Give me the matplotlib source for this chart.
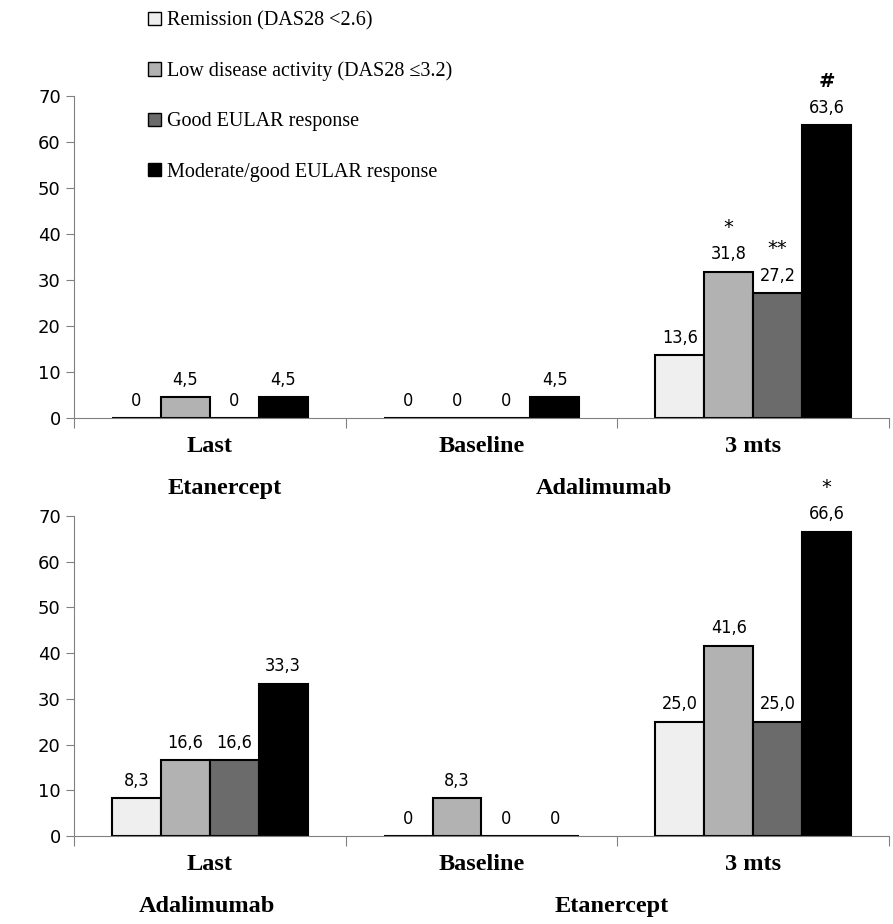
import numpy as np
import matplotlib.pyplot as plt
from matplotlib.patches import Patch

# data
series = ['Remission (DAS28 <2.6)', 'Low disease activity (DAS28 \u22643.2)',
          'Good EULAR response', 'Moderate/good EULAR response']
colors = ['#efefef', '#b2b2b2', '#6b6b6b', '#000000']
periods = ['Last', 'Baseline', '3 mts']

top_values = [[0, 0, 13.6],      # remission
              [4.5, 0, 31.8],    # low disease activity
              [0, 0, 27.2],      # good EULAR
              [4.5, 4.5, 63.6]]  # moderate/good EULAR
top_marks = {(1, 2): '*', (2, 2): '**', (3, 2): '#'}
top_drugs = ['Etanercept', 'Adalimumab']
top_drug_x = [0.055, 1.45]

bot_values = [[8.3, 0, 25.0],
              [16.6, 8.3, 41.6],
              [16.6, 0, 25.0],
              [33.3, 0, 66.6]]
bot_marks = {(3, 2): '*'}
bot_drugs = ['Adalimumab', 'Etanercept']
bot_drug_x = [-0.01, 1.48]

plt.rcParams['font.family'] = ['Liberation Serif', 'DejaVu Serif']

fig = plt.figure(figsize=(8.93, 9.24), dpi=100)
W, H = 893, 924


def fmt(v):
    return '0' if v == 0 else ('%.1f' % v).replace('.', ',')


def panel(rect, values, marks, drugs, drug_x):
    ax = fig.add_axes(rect)
    x = np.arange(len(periods))
    w = 0.18
    for i, vals in enumerate(values):
        pos = x + (i - 1.5) * w
        ax.bar(pos, vals, w, color=colors[i], edgecolor='black', linewidth=1.5)
        for j, v in enumerate(vals):
            ax.annotate(fmt(v), (pos[j], v), xytext=(0, 6), textcoords='offset points',
                        ha='center', va='bottom', fontsize=13, family='DejaVu Sans',
                        fontstretch='condensed')
            if (i, j) in marks:
                m = marks[(i, j)]
                ax.annotate(m, (pos[j], v), xytext=(0, 25), textcoords='offset points',
                            ha='center', va='bottom', fontsize=14, family='DejaVu Sans',
                            fontweight='bold' if m == '#' else 'normal')
    ax.set_xlim(-0.5, 2.5)
    ax.set_ylim(0, 70)
    ax.set_yticks(range(0, 71, 10))
    ax.set_xticks([-0.5, 0.5, 1.5, 2.5])
    ax.set_xticklabels([])
    for s in ['top', 'right']:
        ax.spines[s].set_visible(False)
    for s in ['left', 'bottom']:
        ax.spines[s].set_color('#808080')
    ax.tick_params(axis='y', colors='#808080', length=6, labelcolor='black', labelsize=13)
    ax.tick_params(axis='x', colors='#808080', length=7)
    for t in ax.get_yticklabels():
        t.set_family('DejaVu Sans')
    for j, p in enumerate(periods):
        ax.text(j, -0.088, p, transform=ax.get_xaxis_transform(), ha='center', va='center',
                fontsize=17.5, fontweight='bold')
    for d, dx in zip(drugs, drug_x):
        ax.text(dx, -0.22, d, transform=ax.get_xaxis_transform(), ha='center', va='center',
                fontsize=17.5, fontweight='bold')
    return ax


left = 74 / W
width = (889 - 74) / W
panel([left, 1 - 418 / H, width, 322 / H], top_values, top_marks, top_drugs, top_drug_x)
panel([left, 1 - 836 / H, width, 320 / H], bot_values, bot_marks, bot_drugs, bot_drug_x)

handles = [Patch(facecolor=c, edgecolor='black', linewidth=1) for c in colors]
fig.legend(handles, series, loc='upper left', bbox_to_anchor=(140 / W, 1 - 3 / H),
           frameon=False, fontsize=14.5, handlelength=0.65, handleheight=0.65,
           handletextpad=0.3, labelspacing=1.55, borderaxespad=0)

fig.savefig('out.png', dpi=100)
